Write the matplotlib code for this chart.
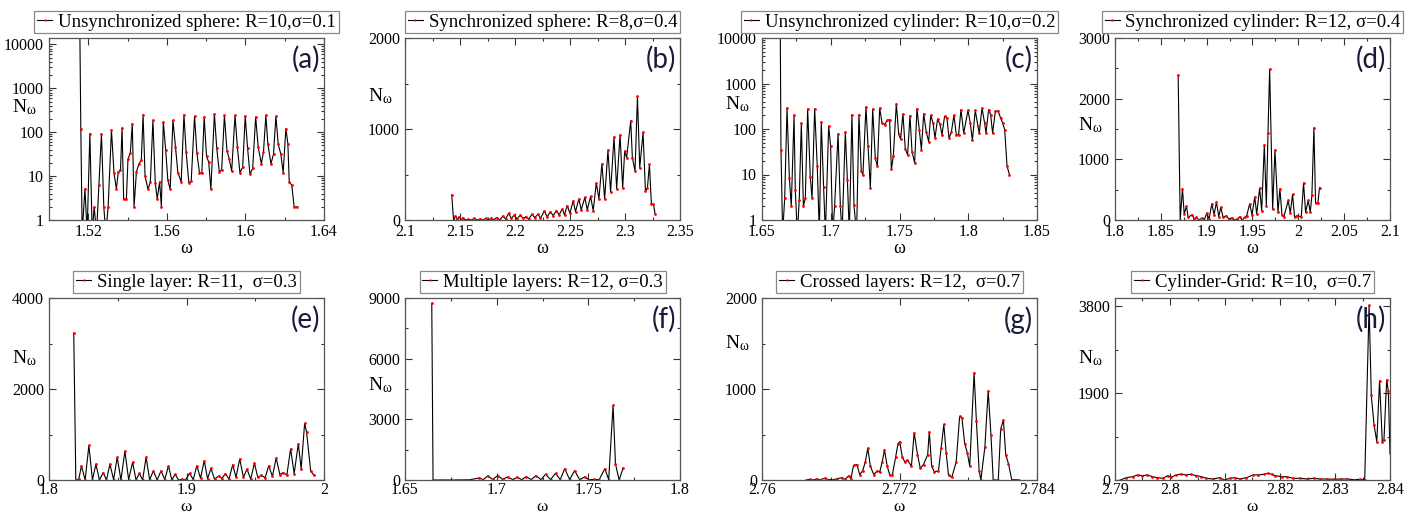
import matplotlib
matplotlib.use('Agg')
import matplotlib.pyplot as plt
from matplotlib.ticker import MultipleLocator, FixedLocator, LogLocator, FuncFormatter, NullFormatter

# ---- data ----
a_omega = [1.5157, 1.5162, 1.5169, 1.5183, 1.5194, 1.5208, 1.5220, 1.5230, 1.5242, 1.5254,
           1.5267, 1.5279, 1.5289, 1.5301, 1.5318, 1.5331, 1.5343, 1.5353, 1.5364, 1.5372,
           1.5380, 1.5394, 1.5402, 1.5414, 1.5424, 1.5433, 1.5445, 1.5458, 1.5470, 1.5479,
           1.5489, 1.5504, 1.5516, 1.5529, 1.5541, 1.5551, 1.5563, 1.5572, 1.5582, 1.5594,
           1.5605, 1.5617, 1.5631, 1.5644, 1.5656, 1.5673, 1.5687, 1.5698, 1.5712, 1.5724,
           1.5741, 1.5753, 1.5766, 1.5778, 1.5790, 1.5802, 1.5813, 1.5824, 1.5842, 1.5854,
           1.5867, 1.5879, 1.5893, 1.5906, 1.5918, 1.5930, 1.5947, 1.5959, 1.5972, 1.5986,
           1.5999, 1.6011, 1.6023, 1.6037, 1.6052, 1.6065, 1.6081, 1.6092, 1.6104, 1.6114,
           1.6130, 1.6143, 1.6155, 1.6167, 1.6180, 1.6192, 1.6206, 1.6216, 1.6223, 1.6236,
           1.6248, 1.6261]
a_n = [20000, 121, 0.5, 5.2, 0.5, 93, 0.5, 2, 0.5, 6.2,
       93, 2, 0.5, 2, 111, 11.5, 5.2, 12.5, 14, 125,
       3, 3, 24, 34, 157, 2, 12.5, 19, 23, 252,
       10, 5, 7.4, 187, 7, 3, 7.4, 2, 172, 39,
       8.1, 5, 187, 46, 12, 7.4, 252, 36, 7, 7.7,
       231, 33, 12, 11.5, 223, 28, 21, 5, 260, 43,
       12.5, 14, 243, 38, 24, 13, 243, 46, 12, 16,
       231, 43, 11, 15, 223, 46, 19, 36, 243, 55,
       19, 32, 231, 53, 32, 12, 121, 55, 7.4, 6.2,
       2, 2]

b_omega = [2.1425, 2.1441, 2.1459, 2.1477, 2.1492, 2.1511, 2.1526, 2.1547, 2.1574, 2.1602,
           2.1629, 2.1653, 2.1684, 2.1708, 2.1735, 2.1760, 2.1781, 2.1805, 2.1836, 2.1860,
           2.1891, 2.1915, 2.1942, 2.1967, 2.1994, 2.2018, 2.2049, 2.2073, 2.2100, 2.2125,
           2.2155, 2.2179, 2.2210, 2.2231, 2.2267, 2.2292, 2.2322, 2.2347, 2.2377, 2.2401,
           2.2429, 2.2450, 2.2474, 2.2499, 2.2529, 2.2550, 2.2581, 2.2602, 2.2635, 2.2657,
           2.2687, 2.2711, 2.2739, 2.2763, 2.2790, 2.2815, 2.2845, 2.2869, 2.2900, 2.2924,
           2.2955, 2.2979, 2.2997, 2.3015, 2.3052, 2.3067, 2.3091, 2.3113, 2.3134, 2.3164,
           2.3186, 2.3204, 2.3222, 2.3240, 2.3259, 2.3274]
b_n = [278, 0, 44, 7, 37, 0, 26, 0, 7, 0,
       18, 0, 11, 0, 18, 0, 18, 4, 26, 0,
       44, 11, 74, 18, 55, 11, 55, 18, 37, 11,
       63, 26, 63, 18, 100, 33, 92, 48, 104, 55,
       122, 55, 159, 74, 211, 92, 233, 111, 248, 111,
       259, 104, 407, 233, 618, 233, 766, 307, 914, 344,
       936, 352, 759, 685, 1092, 685, 537, 1359, 574, 962,
       315, 352, 611, 174, 174, 63]

c_omega = [1.6633, 1.6638, 1.6650, 1.6665, 1.6682, 1.6699, 1.6713, 1.6733, 1.6742, 1.6757,
           1.6771, 1.6786, 1.6801, 1.6815, 1.6832, 1.6851, 1.6864, 1.6883, 1.6902, 1.6917,
           1.6931, 1.6948, 1.6961, 1.6985, 1.6999, 1.7014, 1.7028, 1.7053, 1.7070, 1.7082,
           1.7106, 1.7121, 1.7135, 1.7154, 1.7169, 1.7188, 1.7205, 1.7222, 1.7234, 1.7256,
           1.7271, 1.7288, 1.7305, 1.7324, 1.7339, 1.7356, 1.7373, 1.7392, 1.7411, 1.7428,
           1.7441, 1.7455, 1.7477, 1.7494, 1.7508, 1.7525, 1.7542, 1.7559, 1.7576, 1.7591,
           1.7610, 1.7627, 1.7644, 1.7659, 1.7676, 1.7695, 1.7712, 1.7727, 1.7744, 1.7758,
           1.7777, 1.7794, 1.7809, 1.7828, 1.7845, 1.7860, 1.7877, 1.7896, 1.7913, 1.7930,
           1.7947, 1.7967, 1.7998, 1.8015, 1.8030, 1.8051, 1.8071, 1.8080, 1.8100, 1.8119,
           1.8129, 1.8148, 1.8163, 1.8177, 1.8197, 1.8216, 1.8236, 1.8250, 1.8265, 1.8282,
           1.8299]
c_n = [12000, 35, 0.5, 3, 290, 8.3, 2, 200, 4.6, 0.5,
       2.8, 135, 2, 3, 276, 9, 3, 280, 15, 0.5,
       143, 5.4, 0.5, 115, 43, 0.5, 2, 79, 2, 0.5,
       85, 7.6, 0.5, 208, 2.1, 0.5, 208, 12, 10, 308,
       43, 5, 276, 23, 15, 290, 135, 125, 155, 160,
       13, 25, 360, 78, 60, 217, 36, 27, 197, 32,
       18, 280, 97, 35, 217, 85, 53, 200, 135, 63,
       166, 129, 75, 191, 174, 63, 85, 200, 75, 75,
       267, 81, 257, 135, 56, 257, 114, 81, 290, 135,
       81, 267, 207, 81, 245, 250, 174, 135, 97, 15.5,
       10]

d_omega = [1.8689, 1.8711, 1.8736, 1.8755, 1.8780, 1.8798, 1.8842, 1.8863, 1.8889, 1.8914,
           1.8951, 1.8972, 1.9001, 1.9027, 1.9056, 1.9081, 1.9107, 1.9132, 1.9154, 1.9179,
           1.9215, 1.9241, 1.9277, 1.9306, 1.9335, 1.9364, 1.9386, 1.9415, 1.9437, 1.9469,
           1.9495, 1.9524, 1.9546, 1.9578, 1.9600, 1.9629, 1.9651, 1.9669, 1.9687, 1.9720,
           1.9745, 1.9778, 1.9799, 1.9821, 1.9843, 1.9890, 1.9912, 1.9937, 1.9959, 1.9981,
           2.0032, 2.0057, 2.0079, 2.0108, 2.0130, 2.0148, 2.0170, 2.0188, 2.0213, 2.0231]
d_n = [2390, 0, 517, 100, 228, 44, 89, 17, 44, 0,
       33, 0, 111, 17, 267, 89, 294, 56, 211, 44,
       72, 17, 33, 0, 17, 56, 0, 44, 72, 267,
       89, 378, 100, 528, 156, 1239, 239, 1433, 2489, 183,
       1156, 128, 517, 89, 56, 322, 111, 422, 44, 72,
       56, 611, 128, 322, 128, 406, 1520, 278, 278, 533]

e_omega = [1.8180, 1.8195, 1.8217, 1.8236, 1.8263, 1.8290, 1.8316, 1.8341, 1.8367, 1.8394,
           1.8418, 1.8443, 1.8470, 1.8496, 1.8523, 1.8552, 1.8579, 1.8608, 1.8633, 1.8657,
           1.8681, 1.8706, 1.8732, 1.8759, 1.8786, 1.8815, 1.8842, 1.8869, 1.8893, 1.8917,
           1.8942, 1.8966, 1.8993, 1.9022, 1.9049, 1.9075, 1.9102, 1.9129, 1.9153, 1.9178,
           1.9204, 1.9234, 1.9258, 1.9282, 1.9309, 1.9336, 1.9360, 1.9387, 1.9414, 1.9440,
           1.9467, 1.9494, 1.9518, 1.9545, 1.9572, 1.9598, 1.9625, 1.9652, 1.9679, 1.9703,
           1.9730, 1.9757, 1.9783, 1.9813, 1.9834, 1.9859, 1.9873, 1.9903, 1.9927]
e_n = [3230, 0, 20, 313, 0, 760, 0, 350, 0, 164,
       0, 350, 5, 500, 0, 633, 10, 387, 0, 149,
       0, 500, 5, 201, 0, 201, 10, 313, 0, 127,
       0, 15, 0, 149, 10, 313, 40, 425, 30, 253,
       20, 89, 30, 141, 20, 335, 60, 462, 60, 238,
       20, 372, 60, 104, 50, 313, 80, 484, 120, 164,
       110, 685, 140, 797, 250, 1244, 1058, 200, 104]

f_omega = [1.6646, 1.6653, 1.6704, 1.6777, 1.6850, 1.6905, 1.6927, 1.6951, 1.6978, 1.7006,
           1.7033, 1.7060, 1.7088, 1.7111, 1.7137, 1.7161, 1.7188, 1.7215, 1.7241, 1.7267,
           1.7294, 1.7321, 1.7347, 1.7371, 1.7398, 1.7425, 1.7453, 1.7480, 1.7504, 1.7529,
           1.7559, 1.7590, 1.7611, 1.7635, 1.7648, 1.7668, 1.7690]
f_n = [8730, 0, 0, 0, 10, 100, 20, 200, 30, 220,
       30, 150, 20, 130, 20, 170, 20, 220, 20, 280,
       20, 330, 20, 560, 20, 460, 20, 150, 10, 30,
       10, 560, 20, 3700, 800, 0, 600]

g_omega = [2.76388, 2.76417, 2.76447, 2.76476, 2.76505, 2.76549, 2.76579, 2.76623, 2.76658, 2.76696,
           2.76726, 2.76755, 2.76776, 2.76799, 2.76829, 2.76852, 2.76878, 2.76902, 2.76923, 2.76946,
           2.76975, 2.77005, 2.77028, 2.77049, 2.77069, 2.77093, 2.77116, 2.77137, 2.77166, 2.77187,
           2.77202, 2.77225, 2.77246, 2.77269, 2.77304, 2.77328, 2.77357, 2.77381, 2.77410, 2.77446,
           2.77460, 2.77481, 2.77504, 2.77540, 2.77563, 2.77587, 2.77607, 2.77628, 2.77657, 2.77695,
           2.77725, 2.77745, 2.77769, 2.77792, 2.77813, 2.77851, 2.77871, 2.77895, 2.77910, 2.77945,
           2.77974, 2.77998, 2.78018, 2.78062, 2.78083, 2.78107, 2.78127, 2.78151, 2.78180, 2.78209,
           2.78239]
g_n = [0, 7, 0, 10, 3, 19, 5, 3, 15, 26,
       7, 45, 15, 160, 170, 60, 100, 200, 350, 150,
       60, 100, 90, 200, 330, 150, 50, 50, 250, 400,
       420, 250, 200, 220, 150, 520, 280, 130, 170, 280,
       530, 150, 90, 100, 350, 610, 300, 50, 30, 200,
       700, 680, 400, 300, 150, 1180, 650, 100, 0, 360,
       980, 500, 0, 0, 560, 660, 280, 180, 0, 5,
       0]

h_omega = [2.7910, 2.7920, 2.7932, 2.7941, 2.7950, 2.7959, 2.7968, 2.7977, 2.7987, 2.7996,
           2.8002, 2.8011, 2.8020, 2.8029, 2.8038, 2.8048, 2.8057, 2.8066, 2.8078, 2.8090,
           2.8099, 2.8109, 2.8118, 2.8127, 2.8139, 2.8151, 2.8160, 2.8170, 2.8179, 2.8185,
           2.8191, 2.8203, 2.8212, 2.8224, 2.8237, 2.8249, 2.8261, 2.8273, 2.8285, 2.8298,
           2.8310, 2.8322, 2.8334, 2.8346, 2.8354, 2.8362, 2.8366, 2.8371, 2.8376, 2.8381,
           2.8386, 2.8389, 2.8394, 2.8397, 2.8400]
h_n = [0, 50, 73, 110, 95, 110, 73, 50, 37, 95,
       58, 110, 130, 110, 124, 95, 73, 37, 22, 50,
       0, 37, 50, 22, 50, 110, 110, 124, 146, 124,
       95, 73, 73, 37, 37, 22, 37, 22, 22, 15,
       22, 22, 7, 15, 0, 3816, 1850, 1206, 840, 2171,
       840, 877, 2193, 1937, 585]

legend_labels = ['Unsynchronized sphere: R=10,\u03c3=0.1',
                 'Synchronized sphere: R=8,\u03c3=0.4',
                 'Unsynchronized cylinder: R=10,\u03c3=0.2',
                 'Synchronized cylinder: R=12, \u03c3=0.4',
                 'Single layer: R=11,  \u03c3=0.3',
                 'Multiple layers: R=12, \u03c3=0.3',
                 'Crossed layers: R=12,  \u03c3=0.7',
                 'Cylinder-Grid: R=10,  \u03c3=0.7']
panel_tags = ['(a)', '(b)', '(c)', '(d)', '(e)', '(f)', '(g)', '(h)']

# ---- styling ----
plt.rcParams['font.family'] = ['Liberation Serif', 'DejaVu Serif']
plt.rcParams['mathtext.fontset'] = 'custom'
plt.rcParams['mathtext.rm'] = 'Liberation Serif'
plt.rcParams['mathtext.it'] = 'Liberation Serif'

W, H = 1422, 515
fig = plt.figure(figsize=(W / 100, H / 100), dpi=100)

lefts = [49, 405, 762, 1115]
rows = [(38, 220), (298, 480)]
axw = 275

panels = [
    dict(w=a_omega, n=a_n, xlim=(1.50, 1.64), xmaj=0.04, xmin=0.02, log=True, ylim=(1, 14000), ly=0.62),
    dict(w=b_omega, n=b_n, xlim=(2.10, 2.35), xmaj=0.05, xmin=0.025, ylim=(0, 2000), ymaj=[0, 1000, 2000], ymin=500, ly=0.68),
    dict(w=c_omega, n=c_n, xlim=(1.65, 1.85), xmaj=0.05, xmin=0.025, log=True, ylim=(1, 10000), ly=0.635),
    dict(w=d_omega, n=d_n, xlim=(1.80, 2.10), xmaj=0.05, xmin=0.025, ylim=(0, 3000), ymaj=[0, 1000, 2000, 3000], ymin=500, ly=0.52),
    dict(w=e_omega, n=e_n, xlim=(1.80, 2.00), xmaj=0.1, xmin=0.05, ylim=(0, 4000), ymaj=[0, 2000, 4000], ymin=1000, ly=0.67),
    dict(w=f_omega, n=f_n, xlim=(1.65, 1.80), xmaj=0.05, xmin=0.025, ylim=(0, 9000), ymaj=[0, 3000, 6000, 9000], ymin=1500, ly=0.52),
    dict(w=g_omega, n=g_n, xlim=(2.76, 2.784), xmaj=0.012, xmin=0.006, ylim=(0, 2000), ymaj=[0, 1000, 2000], ymin=500, ly=0.75),
    dict(w=h_omega, n=h_n, xlim=(2.79, 2.84), xmaj=0.01, xmin=0.005, ylim=(0, 3980), ymaj=[0, 1900, 3800], ymin=950, ly=0.67),
]

for i, p in enumerate(panels):
    r, c = divmod(i, 4)
    top, bot = rows[r]
    ax = fig.add_axes([lefts[c] / W, 1 - bot / H, axw / W, (bot - top) / H])
    ax.plot(p['w'], p['n'], color='black', lw=0.8, marker='o', ms=2.0,
            mfc='red', mec='red', mew=0, label=legend_labels[i])
    ax.set_xlim(*p['xlim'])
    if p.get('log'):
        ax.set_yscale('log')
        ax.set_ylim(*p['ylim'])
        ax.yaxis.set_major_locator(LogLocator(base=10, numticks=10))
        ax.yaxis.set_minor_locator(LogLocator(base=10, subs=range(2, 10), numticks=20))
        ax.yaxis.set_major_formatter(FuncFormatter(lambda v, pos: '%d' % round(v)))
        ax.yaxis.set_minor_formatter(NullFormatter())
    else:
        ax.set_ylim(*p['ylim'])
        ax.yaxis.set_major_locator(FixedLocator(p['ymaj']))
        ax.yaxis.set_minor_locator(MultipleLocator(p['ymin']))
    ax.xaxis.set_major_locator(MultipleLocator(p['xmaj']))
    ax.xaxis.set_minor_locator(MultipleLocator(p['xmin']))
    ax.xaxis.set_major_formatter(FuncFormatter(lambda v, pos: '%g' % round(v, 4)))

    ax.tick_params(which='both', direction='in', top=True, right=True, width=0.8,
                   color='#333333', labelsize=11.5)
    ax.tick_params(which='major', length=5)
    ax.tick_params(which='minor', length=2.5)
    ax.tick_params(axis='y', which='major', pad=3.5)
    ax.tick_params(axis='x', which='major', pad=3 if r == 0 else 1.5)
    for s in ax.spines.values():
        s.set_color('#555555')
        s.set_linewidth(0.9)

    if r == 0:
        ax.set_xlabel('\u03c9', fontsize=13)
        ax.xaxis.set_label_coords(0.5, -0.11)
    else:
        ax.set_xlabel('\u03c9', fontsize=12.5)
        ax.xaxis.label.set_va('bottom')
        ax.xaxis.set_label_coords(0.5, -0.19)
    ax.set_ylabel(r'N$_{\omega}$', fontsize=14, rotation=0, ha='center', va='center')
    ax.yaxis.set_label_coords(-0.09, p['ly'])

    ax.text(0.985, 0.955, panel_tags[i], transform=ax.transAxes, ha='right', va='top',
            fontsize=20, family=['Lato', 'DejaVu Sans'], color='#1a1a3c')

    leg = ax.legend(loc='lower center', bbox_to_anchor=(0.5, 1.025), frameon=True,
                    fancybox=False, edgecolor='#888888', framealpha=1,
                    handlelength=0.8, handletextpad=0.3, borderpad=0.15,
                    borderaxespad=0, markerscale=0.8, prop={'size': 13.5})
    leg.get_frame().set_linewidth(0.9)

fig.savefig('out.png', dpi=100)
